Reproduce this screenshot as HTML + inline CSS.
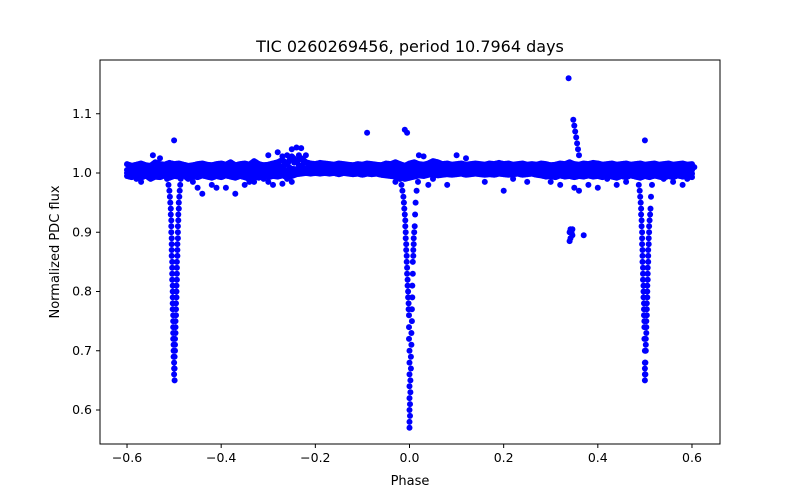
<!DOCTYPE html>
<html><head><meta charset="utf-8"><style>
html,body{margin:0;padding:0;background:#fff}
svg{display:block;font-family:"DejaVu Sans","Liberation Sans",sans-serif}
</style></head><body>
<svg id="chart" width="800" height="500">
<rect x="0" y="0" width="800" height="500" fill="#fff"/>
<text x="410" y="52" text-anchor="middle" font-size="16">TIC 0260269456, period 10.7964 days</text>
<g id="marks"></g>
<rect x="100" y="60" width="620" height="384" fill="none" stroke="#000" stroke-width="1"/>
<g id="xticks"></g>
<g id="yticks"></g>
<text x="410" y="485" text-anchor="middle" font-size="13">Phase</text>
<text transform="translate(59,252) rotate(-90)" text-anchor="middle" font-size="13">Normalized PDC flux</text>
</svg>
<script>
const xTicks=[-0.6,-0.4,-0.2,0.0,0.2,0.4,0.6];
const xTickLabels=["\u22120.6","\u22120.4","\u22120.2","0.0","0.2","0.4","0.6"];
const yTicks=[0.6,0.7,0.8,0.9,1.0,1.1];
const yTickLabels=["0.6","0.7","0.8","0.9","1.0","1.1"];
const baseStart=-0.6, baseStep=0.01;
const baseUpper=[1.015,1.012,1.014,1.016,1.013,1.012,1.018,1.015,1.014,1.017,1.015,1.016,1.014,1.012,1.013,1.015,1.016,1.014,1.013,1.015,1.016,1.014,1.018,1.013,1.015,1.016,1.014,1.02,1.015,1.013,1.014,1.016,1.018,1.022,1.015,1.028,1.02,1.025,1.018,1.016,1.015,1.017,1.016,1.015,1.014,1.016,1.015,1.014,1.013,1.015,1.014,1.016,1.015,1.014,1.013,1.016,1.015,1.018,1.015,1.012,1.016,1.018,1.015,1.014,1.016,1.02,1.018,1.015,1.016,1.014,1.015,1.016,1.014,1.015,1.016,1.015,1.014,1.016,1.015,1.017,1.015,1.016,1.014,1.015,1.016,1.014,1.015,1.014,1.016,1.015,1.013,1.014,1.016,1.015,1.018,1.015,1.014,1.016,1.015,1.017,1.016,1.014,1.015,1.016,1.014,1.015,1.016,1.014,1.015,1.016,1.014,1.015,1.016,1.014,1.015,1.016,1.014,1.015,1.016,1.014,1.015];
const baseMid=[1.005,1.003,1.006,1.004,1.005,1.002,1.006,1.004,1.005,1.003,1.006,1.004,1.005,1.003,1.006,1.004,1.005,1.003,1.006,1.004,1.005,1.003,1.006,1.004,1.005,1.003,1.006,1.004,1.005,1.003,1.006,1.004,1.005,1.006,1.004,1.007,1.006,1.008,1.007,1.008,1.008,1.009,1.008,1.009,1.008,1.007,1.008,1.007,1.006,1.007,1.008,1.007,1.006,1.007,1.008,1.007,1.006,1.005,1.006,1.004,1.005,1.004,1.006,1.005,1.007,1.008,1.006,1.007,1.006,1.007,1.008,1.007,1.006,1.007,1.008,1.007,1.006,1.007,1.008,1.007,1.006,1.007,1.008,1.007,1.006,1.007,1.008,1.007,1.006,1.007,1.006,1.005,1.006,1.004,1.005,1.006,1.005,1.004,1.006,1.005,1.004,1.006,1.005,1.004,1.006,1.005,1.004,1.006,1.005,1.004,1.006,1.005,1.004,1.006,1.005,1.004,1.006,1.005,1.004,1.006,1.005];
const baseLower=[0.995,0.993,0.997,0.992,0.996,0.99,0.994,0.993,0.996,0.992,0.995,0.994,0.997,0.99,0.995,0.993,0.996,0.994,0.992,0.995,0.993,0.996,0.994,0.992,0.995,0.993,0.99,0.994,0.992,0.996,0.993,0.995,0.994,0.996,0.993,0.995,0.998,0.999,1.0,0.999,1.0,0.999,1.0,0.999,1.0,0.998,1.0,0.999,0.998,0.999,0.997,0.999,0.998,0.999,0.997,0.996,0.995,0.994,0.993,0.99,0.992,0.994,0.996,0.995,0.997,0.998,0.996,0.997,0.998,0.997,0.998,0.999,0.997,0.998,0.999,0.998,0.997,0.998,0.997,0.999,0.998,0.997,0.998,0.999,0.997,0.998,0.999,0.997,0.996,0.994,0.995,0.993,0.996,0.994,0.995,0.993,0.995,0.994,0.996,0.994,0.995,0.993,0.996,0.994,0.992,0.995,0.993,0.996,0.994,0.992,0.995,0.993,0.996,0.994,0.992,0.995,0.993,0.996,0.994,0.995,0.993];
const outPhase=[-0.545,-0.53,-0.58,-0.57,-0.44,-0.42,-0.41,-0.39,-0.37,-0.35,-0.34,-0.33,-0.31,-0.3,-0.28,-0.27,-0.26,-0.25,-0.24,-0.235,-0.23,-0.22,-0.3,-0.29,-0.27,-0.26,-0.25,-0.09,-0.01,-0.005,-0.02,-0.03,0.02,0.03,0.04,0.05,0.08,0.1,0.12,0.16,0.2,0.22,0.25,0.3,0.32,0.35,0.36,0.38,0.4,0.42,0.44,0.46,0.54,0.56,0.58,0.59,0.5,-0.5,-0.46,-0.45];
const outFlux=[1.03,1.025,0.99,0.985,0.965,0.98,0.975,0.975,0.965,0.98,0.985,0.985,0.99,1.03,1.035,1.028,1.03,1.04,1.043,1.03,1.042,1.03,0.985,0.98,0.982,0.99,0.985,1.068,1.073,1.068,0.99,0.985,1.03,1.028,0.98,0.99,0.98,1.03,1.025,0.985,0.97,0.99,0.985,0.985,0.98,0.975,0.97,0.98,0.975,0.99,0.98,0.985,0.99,0.985,0.98,0.99,1.055,1.055,0.985,0.975];
const flarePhase=[0.338,0.34,0.342,0.344,0.346,0.348,0.35,0.352,0.354,0.356,0.358,0.36,0.34,0.342,0.344,0.346,0.37];
const flareFlux=[1.16,0.9,0.905,0.9,0.895,1.09,1.08,1.07,1.06,1.05,1.04,1.03,0.885,0.89,0.9,0.905,0.895];
const dipLPhase=[-0.515,-0.512,-0.51,-0.509,-0.508,-0.507,-0.507,-0.506,-0.506,-0.506,-0.505,-0.505,-0.505,-0.505,-0.504,-0.504,-0.504,-0.504,-0.503,-0.503,-0.503,-0.503,-0.503,-0.502,-0.502,-0.502,-0.502,-0.502,-0.501,-0.501,-0.501,-0.5,-0.5,-0.5,-0.499,
 -0.499,-0.499,-0.498,-0.498,-0.498,-0.497,-0.497,-0.497,-0.496,-0.496,-0.496,-0.495,-0.495,-0.495,-0.494,-0.494,-0.494,-0.494,-0.493,-0.493,-0.493,-0.492,-0.492,-0.492,-0.491,-0.491,-0.49,-0.49,-0.489,-0.488,-0.487,-0.486,-0.484];
const dipLFlux=[0.99,0.98,0.97,0.96,0.95,0.94,0.93,0.92,0.91,0.9,0.89,0.88,0.87,0.86,0.85,0.84,0.83,0.82,0.81,0.8,0.79,0.78,0.77,0.76,0.75,0.74,0.73,0.72,0.71,0.7,0.69,0.68,0.67,0.66,0.65,
 0.67,0.69,0.7,0.71,0.72,0.73,0.74,0.75,0.76,0.77,0.78,0.79,0.8,0.81,0.82,0.83,0.84,0.85,0.86,0.87,0.88,0.89,0.9,0.91,0.92,0.93,0.94,0.95,0.96,0.97,0.98,0.99,0.995];
const dipCPhase=[-0.02,-0.017,-0.015,-0.013,-0.012,-0.011,-0.01,-0.009,-0.009,-0.008,-0.008,-0.007,-0.007,-0.006,-0.006,-0.005,-0.005,-0.004,-0.004,-0.003,-0.003,-0.002,-0.002,-0.001,-0.001,-0.001,0.0,0.0,0.0,0.0,0.0,0.0,0.0,0.0,
 0.001,0.001,0.002,0.002,0.003,0.003,0.004,0.004,0.005,0.005,0.006,0.006,0.007,0.007,0.008,0.008,0.009,0.009,0.01,0.011,0.012,0.013,0.015,0.018];
const dipCFlux=[0.99,0.98,0.97,0.96,0.95,0.94,0.93,0.92,0.91,0.9,0.89,0.88,0.87,0.86,0.85,0.84,0.83,0.82,0.81,0.8,0.79,0.78,0.77,0.76,0.74,0.72,0.7,0.68,0.66,0.64,0.62,0.6,0.58,0.57,
 0.59,0.61,0.63,0.65,0.67,0.69,0.71,0.73,0.75,0.77,0.79,0.81,0.83,0.85,0.86,0.87,0.88,0.89,0.9,0.91,0.93,0.95,0.97,0.985];
const dipRPhase=[0.484,0.487,0.489,0.49,0.491,0.492,0.492,0.493,0.493,0.494,0.494,0.494,0.495,0.495,0.495,0.496,0.496,0.496,0.497,0.497,0.497,0.498,0.498,0.498,0.499,0.499,0.499,0.5,0.5,0.5,0.5,0.5,
 0.501,0.501,0.502,0.502,0.502,0.503,0.503,0.503,0.504,0.504,0.504,0.505,0.505,0.505,0.506,0.506,0.506,0.507,0.507,0.507,0.508,0.508,0.509,0.509,0.51,0.511,0.512,0.513,0.515,0.518];
const dipRFlux=[0.995,0.98,0.97,0.96,0.95,0.94,0.93,0.92,0.91,0.9,0.89,0.88,0.87,0.86,0.85,0.84,0.83,0.82,0.81,0.8,0.79,0.78,0.77,0.76,0.75,0.74,0.72,0.7,0.68,0.67,0.66,0.65,
 0.66,0.68,0.7,0.71,0.72,0.73,0.74,0.75,0.76,0.77,0.78,0.79,0.8,0.81,0.82,0.83,0.84,0.85,0.86,0.87,0.88,0.89,0.9,0.91,0.92,0.93,0.94,0.96,0.98,0.995];

const X0=100,X1=720,Y0=60,Y1=444;
function xs(p){return 409.5+p*470.8;}
function ys(f){return 173-(f-1.0)*592.5;}
const NS='http://www.w3.org/2000/svg';
const marks=document.getElementById('marks');
function dot(p,f,name){
  const c=document.createElementNS(NS,'circle');
  c.setAttribute('cx',xs(p).toFixed(1));
  c.setAttribute('cy',ys(f).toFixed(1));
  c.setAttribute('r','3');
  c.setAttribute('fill','#0000ff');
  
  
  marks.appendChild(c);
}
[baseUpper,baseMid,baseLower].forEach(arr=>{
  arr.forEach((f,i)=>{
    const p=baseStart+i*baseStep;
    dot(p,f,'baseline-point');
    if(i<arr.length-1){
      for(let k=1;k<4;k++){
        const t=k/4;
        dot(p+baseStep*t,f+(arr[i+1]-f)*t,'baseline-point');
      }
    }
  });
});
baseUpper.forEach((f,i)=>{
  const p=baseStart+i*baseStep;
  dot(p+baseStep/2,(f+baseMid[i])/2,'baseline-point');
  dot(p,(baseMid[i]+baseLower[i])/2,'baseline-point');
});
outPhase.forEach((p,i)=>dot(p,outFlux[i],'outlier-point'));
flarePhase.forEach((p,i)=>dot(p,flareFlux[i],'flare-point'));
dipLPhase.forEach((p,i)=>dot(p,dipLFlux[i],'primary-eclipse-left-point'));
dipCPhase.forEach((p,i)=>dot(p,dipCFlux[i],'secondary-eclipse-point'));
dipRPhase.forEach((p,i)=>dot(p,dipRFlux[i],'primary-eclipse-right-point'));

const xt=document.getElementById('xticks');
xTicks.forEach((t,i)=>{
  const x=xs(t);
  const l=document.createElementNS(NS,'line');
  l.setAttribute('x1',x);l.setAttribute('x2',x);l.setAttribute('y1',Y1);l.setAttribute('y2',Y1+4);
  l.setAttribute('stroke','#000');
  
  
  xt.appendChild(l);
  const tx=document.createElementNS(NS,'text');
  tx.setAttribute('x',x);tx.setAttribute('y',Y1+18);tx.setAttribute('text-anchor','middle');tx.setAttribute('font-size','12.5');
  tx.textContent=xTickLabels[i];
  
  
  xt.appendChild(tx);
});
const yt=document.getElementById('yticks');
yTicks.forEach((t,i)=>{
  const y=ys(t);
  const l=document.createElementNS(NS,'line');
  l.setAttribute('x1',X0-4);l.setAttribute('x2',X0);l.setAttribute('y1',y);l.setAttribute('y2',y);
  l.setAttribute('stroke','#000');
  
  
  yt.appendChild(l);
  const tx=document.createElementNS(NS,'text');
  tx.setAttribute('x',X0-8);tx.setAttribute('y',y+4);tx.setAttribute('text-anchor','end');tx.setAttribute('font-size','12.5');
  tx.textContent=yTickLabels[i];
  
  
  yt.appendChild(tx);
});
</script>
</body></html>
